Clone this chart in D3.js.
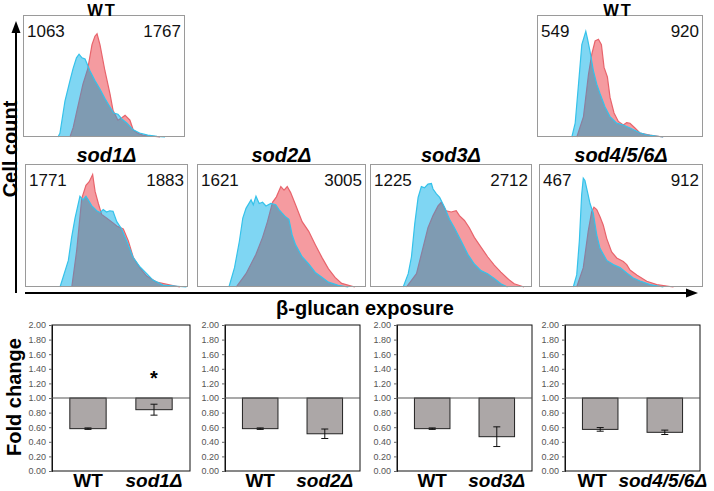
<!DOCTYPE html>
<html><head><meta charset="utf-8">
<script src="https://cdn.jsdelivr.net/npm/d3@7/dist/d3.min.js"></script>
<style>
body{margin:0;background:#fff}
svg{display:block}
text{font-family:"Liberation Sans",Arial,Helvetica,sans-serif}
</style>
</head><body>
<svg id="chart" width="714" height="491"></svg>
<script>
// ---------- DATA ----------
// histogram titles and gate values
const histTitles = ["WT", "sod1Δ", "sod2Δ", "sod3Δ", "WT", "sod4/5/6Δ"];
const histLeftValues = [1063, 1771, 1621, 1225, 549, 467];
const histRightValues = [1767, 1883, 3005, 2712, 920, 912];

// histogram traces: [channel (0-100), relative count (0-100)]
const wt1Cyan = [[21.6,0],[22.8,3],[25.9,30],[29,47],[30.9,57],[33,66],[34.6,69],[36.4,66],[38.3,65],[41.4,55],[44.4,47],[47.5,40],[50.6,32],[53.7,25],[56,20],[58.6,19],[61,15],[64.2,11.5],[68,6],[72,3.3],[77,1.5],[82.7,0.5],[87.7,0]];
const wt1Red = [[29,0],[31,8],[33.3,22],[37,44],[40,57],[42.6,77],[44.4,84],[45.7,86],[47.5,77],[50.6,55],[53.7,36],[55.6,22],[58.6,14],[61,16],[63,18],[66,14],[68,6],[71,3],[74,1.6],[84.6,0]];
const sod1Cyan = [[21.5,0],[26.6,22],[28.6,41],[30.7,57],[33.7,75],[35.6,72],[37.4,75],[38.8,72],[41,67],[44,63],[46,61.5],[48,64],[50,62],[52,63],[54,62.5],[56.3,54],[59.3,48],[62.4,38],[66.3,24.6],[70.6,16.5],[74.7,11],[78.5,5.7],[84.7,1.6],[99,0]];
const sod1Red = [[28.7,0],[31.7,30],[34.8,73],[37.4,84],[39.4,87],[41.5,93],[43,79],[45,69],[47,60],[50,57],[54,53],[56.3,50.4],[60.3,48],[63.4,38],[66.4,24.6],[70.6,15.5],[74.7,9],[80.8,4],[95,0]];
const sod2Cyan = [[18.9,0],[22.2,16],[25.1,38],[27.1,57],[29,65],[32,72],[33.3,68],[34.9,75],[36.8,69],[38.8,70],[40.8,67],[43.7,69],[46.6,68],[48.5,64],[50.4,61],[52.4,58],[54.4,56],[56.3,43],[58.3,35],[62.2,25],[66.1,19],[70,12],[73.9,8],[77.8,4],[83.6,1.4],[89.5,0]];
const sod2Red = [[23.2,0],[29,11],[34.9,27],[38.8,41],[41.7,54],[44.7,70],[47,74.5],[49.6,83],[51.5,80],[53.4,83],[55.4,78],[58.3,68],[62.2,54],[66.1,46],[70,35],[73.9,24.5],[77.8,15],[81.7,8],[85.6,3],[93.4,0]];
const sod3Cyan = [[20.5,0],[23.6,11],[25.6,25],[27.6,52],[29.7,74],[31.7,83],[33.7,82],[35.8,85],[37.9,85.5],[38.9,81],[41,77],[43,74],[46,66],[49.1,56],[52.1,49],[56.3,38],[60.4,27],[64.4,19],[68.5,13.5],[72.6,11],[76.7,7],[80.8,2.7],[84.9,0]];
const sod3Red = [[22.5,0],[28.7,11],[32.8,33],[35.8,49],[38.9,59],[42,67],[44,70],[47,63],[50.1,62],[53.2,63],[55.2,59],[58.3,55],[61.3,49],[64.4,41],[68.5,33],[72.6,25],[76.7,18],[80.8,12.3],[84.9,7],[89,2.7],[95.1,0]];
const wt2Cyan = [[21,0],[23,11.5],[25,44],[27,77],[29.4,88],[30.4,82],[32,71],[34,55],[36,44],[38,36],[41,25],[44,17],[48,11.5],[52,10],[56,7.5],[62,3.5],[66,1.9],[76,0]];
const wt2Red = [[24,0],[28,17],[31,52],[33,69],[35,80],[37,81.5],[38.8,77],[40.4,58],[42.4,50],[44,33],[46.4,20],[49,13],[52,10],[54,12],[56,11.5],[59,7.5],[62,3.3],[68,1.5],[76,0]];
const sod456Cyan = [[20.9,0],[23,10],[24.6,38],[26,76],[27,90],[28,88],[30,76],[31.1,69],[33.1,61],[35.2,43],[37.2,32],[41.3,22],[45.3,18.5],[49.4,16],[53.5,11.5],[57.5,7.5],[61.6,5],[67.7,2],[75.8,0]];
const sod456Red = [[23,0],[27,16],[30,46],[32.1,62],[33.5,66],[35.2,64],[37.2,58],[39.2,51],[41.3,40],[44.3,29],[47.4,24],[51.4,21],[53.5,18.5],[55.5,14],[59.6,10],[65.7,4.7],[71.8,2],[82,0]];

// bar charts: fold change
const barMutants = ["sod1Δ", "sod2Δ", "sod3Δ", "sod4/5/6Δ"];
const wtFold = [0.58, 0.58, 0.58, 0.57];
const wtFoldErr = [0.01, 0.01, 0.01, 0.025];
const mutFold = [0.84, 0.51, 0.47, 0.53];
const mutFoldErr = [0.075, 0.065, 0.135, 0.03];
const significant = [true, false, false, false];
const foldTicks = [0, 0.2, 0.4, 0.6, 0.8, 1.0, 1.2, 1.4, 1.6, 1.8, 2.0];

// ---------- LAYOUT ----------
const svg = d3.select("#chart");
const defs = svg.append("defs");
const CYAN_FILL = "#7fd6f3", RED_FILL = "#f59ba0", OVER_FILL = "#7f9bb2";
const CYAN_LINE = "#35c2ea", RED_LINE = "#e8646c", OVER_LINE = "#8d7f9e";

const histBoxes = [
  {x0:23, x1:185, y0:15, y1:137},
  {x0:25, x1:188, y0:164, y1:287},
  {x0:197, x1:366, y0:164, y1:287},
  {x0:370, x1:532, y0:164, y1:287},
  {x0:537, x1:703, y0:15, y1:137},
  {x0:539, x1:703, y0:164, y1:287}
];
const histCyan = [wt1Cyan, sod1Cyan, sod2Cyan, sod3Cyan, wt2Cyan, sod456Cyan];
const histRed = [wt1Red, sod1Red, sod2Red, sod3Red, wt2Red, sod456Red];

histBoxes.forEach((b, i) => {
  const x = d3.scaleLinear().domain([0, 100]).range([b.x0, b.x1]);
  const y = d3.scaleLinear().domain([0, 100]).range([b.y1, b.y0 + 2]);
  const area = d3.area().x(d => x(d[0])).y0(y(0)).y1(d => y(d[1]));
  const line = d3.line().x(d => x(d[0])).y(d => y(d[1]));
  const cid = "clipc" + i;
  defs.append("clipPath").attr("id", cid).append("path").attr("d", area(histCyan[i]));
  const g = svg.append("g");
  g.append("rect").attr("x", b.x0).attr("y", b.y0).attr("width", b.x1 - b.x0).attr("height", b.y1 - b.y0).attr("fill", "#fff");
  g.append("path").attr("d", area(histRed[i])).attr("fill", RED_FILL);
  g.append("path").attr("d", line(histRed[i])).attr("fill", "none").attr("stroke", RED_LINE).attr("stroke-width", 1.2);
  g.append("path").attr("d", area(histCyan[i])).attr("fill", CYAN_FILL);
  g.append("path").attr("d", area(histRed[i])).attr("fill", OVER_FILL).attr("clip-path", `url(#${cid})`);
  g.append("path").attr("d", line(histRed[i])).attr("fill", "none").attr("stroke", OVER_LINE).attr("stroke-width", 1.2).attr("clip-path", `url(#${cid})`);
  g.append("path").attr("d", line(histCyan[i])).attr("fill", "none").attr("stroke", CYAN_LINE).attr("stroke-width", 1.2);
  g.append("rect").attr("x", b.x0 + 0.5).attr("y", b.y0 + 0.5).attr("width", b.x1 - b.x0 - 1).attr("height", b.y1 - b.y0 - 1)
    .attr("fill", "none").attr("stroke", "#9a9a9a").attr("stroke-width", 1);
  g.append("text").attr("x", b.x0 + 4).attr("y", b.y0 + 22).attr("font-size", 17).attr("fill", "#111").text(histLeftValues[i]);
  g.append("text").attr("x", b.x1 - 4).attr("y", b.y0 + 22).attr("text-anchor", "end").attr("font-size", 17).attr("fill", "#111").text(histRightValues[i]);
  const isWT = histTitles[i] === "WT";
  g.append("text").attr("x", (b.x0 + b.x1) / 2 - (isWT ? 2 : 0)).attr("y", isWT ? b.y0 + 0.5 : b.y0 - 2)
    .attr("text-anchor", "middle").attr("font-size", isWT ? 16.5 : 20).attr("font-weight", "bold")
    .attr("letter-spacing", isWT ? 2 : 0)
    .attr("font-style", isWT ? "normal" : "italic").attr("fill", "#000").text(histTitles[i]);
});

// axes arrows
svg.append("line").attr("x1", 16).attr("x2", 16).attr("y1", 293).attr("y2", 30).attr("stroke", "#000").attr("stroke-width", 2);
svg.append("path").attr("d", "M16,21 L11.5,33 L20.5,33 Z").attr("fill", "#000");
svg.append("line").attr("x1", 25).attr("x2", 688).attr("y1", 293).attr("y2", 293).attr("stroke", "#000").attr("stroke-width", 2);
svg.append("path").attr("d", "M698,293 L686,288.5 L686,297.5 Z").attr("fill", "#000");
svg.append("text").attr("transform", "translate(17,149) rotate(-90)").attr("text-anchor", "middle")
  .attr("font-size", 20).attr("font-weight", "bold").text("Cell count");
svg.append("text").attr("x", 365).attr("y", 315).attr("text-anchor", "middle")
  .attr("font-size", 20).attr("font-weight", "bold").text("β-glucan exposure");

// bar charts
const barBoxes = [{x0:52, x1:190}, {x0:225, x1:360}, {x0:397, x1:532}, {x0:565, x1:700}];
const barTop = 325, barBottom = 471;
const yB = d3.scaleLinear().domain([0, 2]).range([barBottom, barTop]);

barBoxes.forEach((b, i) => {
  const groups = ["WT", barMutants[i]];
  const vals = [wtFold[i], mutFold[i]];
  const errs = [wtFoldErr[i], mutFoldErr[i]];
  const x = d3.scaleBand().domain(groups).range([b.x0, b.x1]).paddingInner(0.45).paddingOuter(0.27);
  const g = svg.append("g");
  g.append("rect").attr("x", b.x0).attr("y", barTop).attr("width", b.x1 - b.x0).attr("height", barBottom - barTop)
    .attr("fill", "#fff").attr("stroke", "#111").attr("stroke-width", 1);
  const ax = g.append("g").attr("transform", `translate(${b.x0},0)`)
    .call(d3.axisLeft(yB).tickValues(foldTicks).tickFormat(d3.format(".2f")).tickSize(3).tickPadding(3));
  ax.select(".domain").attr("stroke", "#111");
  ax.selectAll(".tick line").attr("stroke", "#666");
  ax.selectAll("text").attr("font-size", 9).attr("fill", "#555").attr("font-family", '"Liberation Sans",Arial,sans-serif');
  groups.forEach((gname, j) => {
    const v = vals[j];
    g.append("rect").attr("x", x(gname)).attr("y", yB(1)).attr("width", x.bandwidth()).attr("height", yB(v) - yB(1))
      .attr("fill", "#aca7a7").attr("stroke", "#222").attr("stroke-width", 1);
    const cx = x(gname) + x.bandwidth() / 2;
    g.append("line").attr("x1", cx).attr("x2", cx).attr("y1", yB(v - errs[j])).attr("y2", yB(v + errs[j])).attr("stroke", "#111").attr("stroke-width", 1);
    [v - errs[j], v + errs[j]].forEach(e => g.append("line").attr("x1", cx - 3.5).attr("x2", cx + 3.5).attr("y1", yB(e)).attr("y2", yB(e)).attr("stroke", "#111").attr("stroke-width", 1));
    let lx = cx;
    if (i === 3 && j === 0) lx = cx - 8;
    if (i === 3 && j === 1) lx = cx - 2;
    g.append("text").attr("x", lx).attr("y", 487).attr("text-anchor", "middle").attr("font-size", 19)
      .attr("font-weight", "bold").attr("font-style", j === 0 ? "normal" : "italic").text(gname);
  });
  g.append("line").attr("x1", b.x0).attr("x2", b.x1).attr("y1", yB(1)).attr("y2", yB(1)).attr("stroke", "#555").attr("stroke-width", 1.2);
  if (significant[i]) {
    const cx = x(barMutants[i]) + x.bandwidth() / 2;
    g.append("text").attr("x", cx).attr("y", yB(1.33) + 11).attr("text-anchor", "middle").attr("font-size", 20).attr("font-weight", "bold").text("*");
  }
});
svg.append("text").attr("transform", "translate(21,397) rotate(-90)").attr("text-anchor", "middle")
  .attr("font-size", 20).attr("font-weight", "bold").text("Fold change");
</script>
</body></html>
